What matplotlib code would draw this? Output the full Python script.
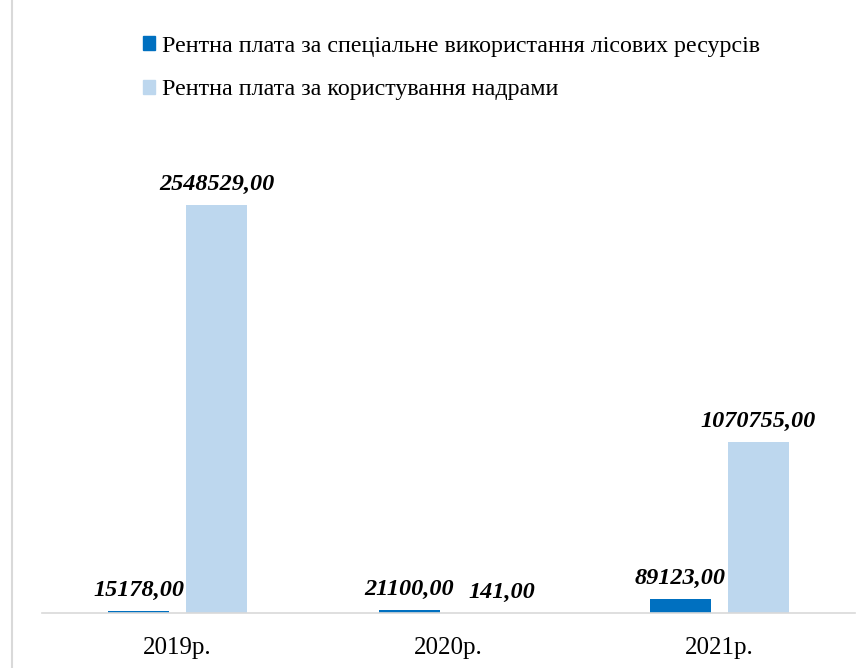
import matplotlib
matplotlib.use("Agg")
import matplotlib.pyplot as plt
from matplotlib.patches import Patch
from matplotlib.lines import Line2D
import numpy as np

years = ["2019р.", "2020р.", "2021р."]
forest = [15178.00, 21100.00, 89123.00]
subsoil = [2548529.00, 141.00, 1070755.00]
labels = [
    "Рентна плата за спеціальне використання лісових ресурсів",
    "Рентна плата за користування надрами",
]
colors = ["#0070C0", "#BDD7EE"]

plt.rcParams["font.family"] = ["Liberation Serif", "DejaVu Serif"]

fig = plt.figure(figsize=(8.67, 6.68), dpi=100)
ax = fig.add_axes([42 / 867, 55 / 668, 813 / 867, 493 / 668])

x = np.arange(len(years))
w = 0.225
off = 0.144
b1 = ax.bar(x - off, forest, w, color=colors[0])
b2 = ax.bar(x + off, subsoil, w, color=colors[1])


def fmt(v):
    return f"{v:.2f}".replace(".", ",")


for k, (bars, vals) in enumerate(((b1, forest), (b2, subsoil))):
    for i, (r, v) in enumerate(zip(bars, vals)):
        # the near-zero label sits a bit to the right in the original
        dx = 10 if (k == 1 and i == 1) else 0
        ax.annotate(fmt(v), (r.get_x() + r.get_width() / 2, r.get_height()),
                    xytext=(dx, 7), textcoords="offset points",
                    ha="center", va="bottom", fontsize=17.5,
                    fontweight="bold", fontstyle="italic")

ax.set_xlim(-0.5, 2.5)
ax.set_ylim(0, 3080000)
ax.set_xticks(x)
ax.set_xticklabels(years, fontsize=18)
ax.tick_params(axis="x", length=0, pad=17)
ax.set_yticks([])
for s in ("top", "right", "left"):
    ax.spines[s].set_visible(False)
ax.spines["bottom"].set_color("#d9d9d9")
ax.spines["bottom"].set_linewidth(1.2)

# light border line on the left
fig.add_artist(Line2D([12 / 867, 12 / 867], [0, 1], color="#d9d9d9", lw=1.5,
                      transform=fig.transFigure))

handles = [Patch(color=c) for c in colors]
fig.legend(handles, labels, loc="upper left",
           bbox_to_anchor=(143 / 867, 1 - 36 / 668), frameon=False,
           borderpad=0, borderaxespad=0, fontsize=17.3,
           handlelength=0.52, handleheight=0.52, handletextpad=0.25,
           labelspacing=0.93)

fig.savefig("out.png", dpi=100)
